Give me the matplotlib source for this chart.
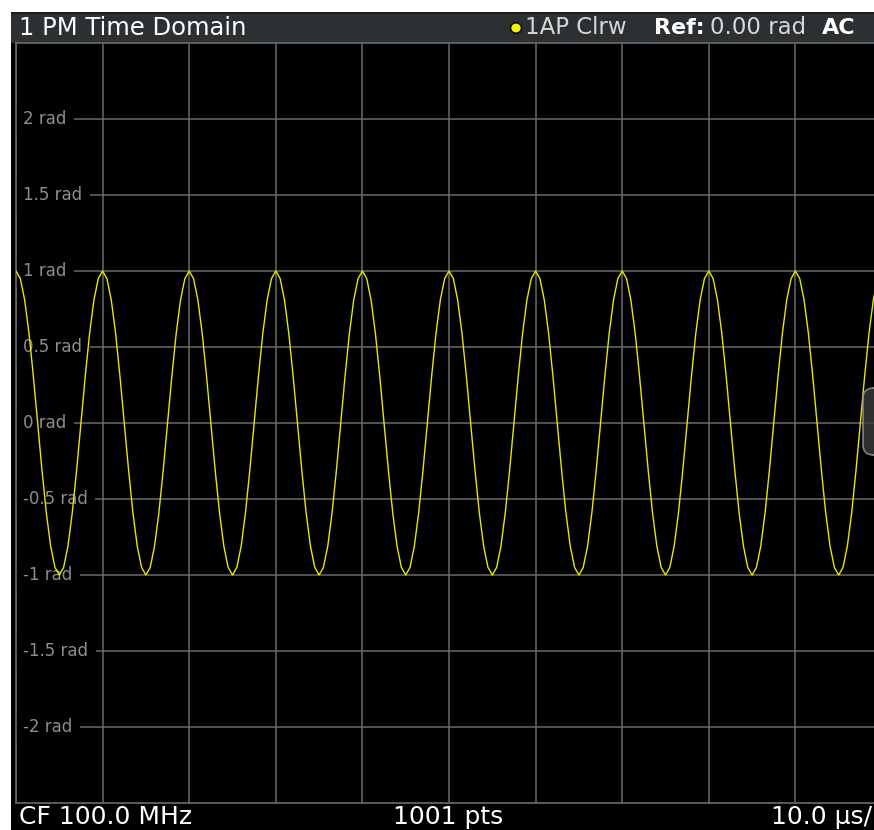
import numpy as np
import matplotlib
matplotlib.use("Agg")
import matplotlib.pyplot as plt
from matplotlib.patches import Rectangle, FancyBboxPatch, Circle

# one period of the trace, 0.5 us per sample (10 us period)
cycle_vals = [1.0, 0.95, 0.81, 0.59, 0.31, 0.0, -0.31, -0.59, -0.81, -0.95,
              -1.0, -0.95, -0.81, -0.59, -0.31, 0.0, 0.31, 0.59, 0.81, 0.95]
n_cycles = 10
step_us = 0.5

y_ticks = [2, 1.5, 1, 0.5, 0, -0.5, -1, -1.5, -2]
y_labels = ["2 rad", "1.5 rad", "1 rad", "0.5 rad", "0 rad",
            "-0.5 rad", "-1 rad", "-1.5 rad", "-2 rad"]
x_grid = list(range(0, 101, 10))

title = "1 PM Time Domain"
footer_left = "CF 100.0 MHz"
footer_mid = "1001 pts"
footer_right = "10.0 \u00b5s/"

W, H = 874, 830
BAR = "#2c3033"
GRID = "#6b6b6b"
TRACE = "#e8e800"


def fx(px):
    return px / W


def fy(py):
    return 1 - py / H


fig = plt.figure(figsize=(W / 100, H / 100), dpi=100, facecolor="white")

# black screen + header bar (behind the axes)
fig.patches.append(Rectangle((fx(11), 0), 1, fy(12), transform=fig.transFigure,
                             facecolor="black", edgecolor="none", zorder=-2))
fig.patches.append(Rectangle((fx(11), fy(43)), 1, 31 / H, transform=fig.transFigure,
                             facecolor=BAR, edgecolor="none", zorder=-1))
fig.patches.append(Rectangle((fx(11), fy(14)), 1, 2 / H, transform=fig.transFigure,
                             facecolor="#1a1c1d", edgecolor="none", zorder=-1))

ax = fig.add_axes([fx(16), fy(803), 866 / W, 760 / H])
ax.set_zorder(2)
ax.set_facecolor("black")
ax.set_xlim(0, 100)
ax.set_ylim(-2.5, 2.5)
ax.set_xticks([])
ax.set_yticks([])
for s in ax.spines.values():
    s.set_color(GRID)
    s.set_linewidth(1.2)

for x in x_grid:
    ax.axvline(x, color=GRID, lw=1.1, zorder=1)
for y in y_ticks:
    ax.axhline(y, color=GRID, lw=1.1, zorder=1)

# labels sit on a black patch that hides the grid line under them
for y, lab in zip(y_ticks, y_labels):
    ax.text(0.008, y, lab, transform=ax.get_yaxis_transform(), ha="left", va="center",
            color="#8e8e8e", fontsize=12, zorder=2,
            bbox=dict(facecolor="black", edgecolor="none", pad=5.5))

vals = np.append(np.tile(cycle_vals, n_cycles), cycle_vals[0])
t = np.arange(len(vals)) * step_us
ax.plot(t, vals, color=TRACE, lw=1.0, zorder=3, clip_on=True)

# scroll handle ghost on the right edge
fig.patches.append(FancyBboxPatch((fx(863), fy(455)), 20 / W, 67 / H,
                                  boxstyle="round,pad=0,rounding_size=0.012",
                                  transform=fig.transFigure, facecolor="#3c3c3c",
                                  edgecolor="#9a9a9a", lw=1.2, alpha=0.8, zorder=5))

# header texts
fig.text(fx(19), fy(28), title, color="white", fontsize=17.5, va="center", ha="left",
         zorder=6)
fig.patches.append(Circle((fx(516), fy(28)), 5.5 / W, transform=fig.transFigure,
                          facecolor="#f2f200", edgecolor="#111111", lw=1.2, zorder=5))
fig.text(fx(525), fy(28), "1AP Clrw", color="#d8d8d8", fontsize=16.5, va="center",
         ha="left", zorder=6)
fig.text(fx(654), fy(28), "Ref:", color="white", fontsize=16, va="center", ha="left",
         fontweight="bold", zorder=6)
fig.text(fx(710), fy(28), "0.00 rad", color="#d8d8d8", fontsize=16.5, va="center",
         ha="left", zorder=6)
fig.text(fx(822), fy(28), "AC", color="white", fontsize=16, va="center", ha="left",
         fontweight="bold", zorder=6)

# footer texts
fig.text(fx(19), fy(817), footer_left, color="white", fontsize=18, va="center",
         ha="left", zorder=6)
fig.text(fx(448), fy(817), footer_mid, color="white", fontsize=18, va="center",
         ha="center", zorder=6)
fig.text(fx(872), fy(817), footer_right, color="white", fontsize=18, va="center",
         ha="right", zorder=6)

fig.savefig("out.png", dpi=100, facecolor="white")
